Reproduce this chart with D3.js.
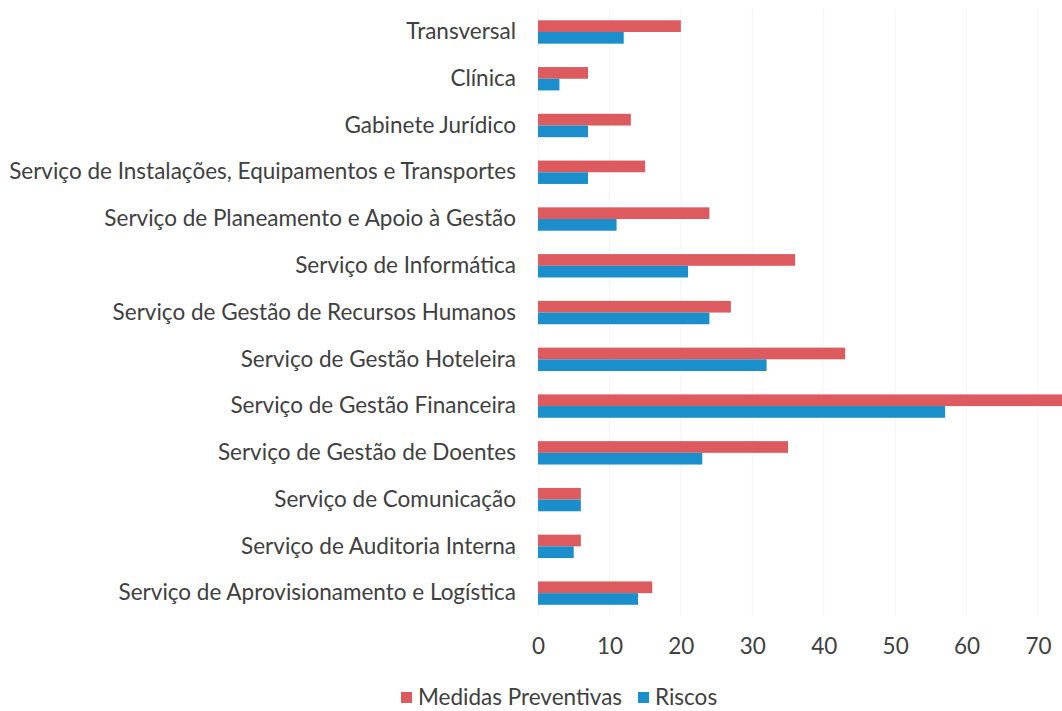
<!DOCTYPE html>
<html>
<head>
<meta charset="utf-8">
<script src="https://cdn.jsdelivr.net/npm/d3@7"></script>
<style>
  body { margin: 0; background: #fff; }
  text { font-family: Lato, "Open Sans", sans-serif; fill: #404040; }
</style>
</head>
<body>
<script>
var categories = [
    "Transversal",
    "Clínica",
    "Gabinete Jurídico",
    "Serviço de Instalações, Equipamentos e Transportes",
    "Serviço de Planeamento e Apoio à Gestão",
    "Serviço de Informática",
    "Serviço de Gestão de Recursos Humanos",
    "Serviço de Gestão Hoteleira",
    "Serviço de Gestão Financeira",
    "Serviço de Gestão de Doentes",
    "Serviço de Comunicação",
    "Serviço de Auditoria Interna",
    "Serviço de Aprovisionamento e Logística"
];
var medidas = [20, 7, 13, 15, 24, 36, 27, 43, 74, 35, 6, 6, 16];
var riscos = [12, 3, 7, 7, 11, 21, 24, 32, 57, 23, 6, 5, 14];
var seriesNames = ["Medidas Preventivas", "Riscos"];
var xTicks = [0, 10, 20, 30, 40, 50, 60, 70];

var width = 1062, height = 711;
var colors = ["#dd5a5e", "#1b8fcb"];
var fontSize = "22.5px";

var svg = d3.select("body").append("svg")
    .attr("width", width)
    .attr("height", height);

var x = d3.scaleLinear().domain([0, 70]).range([538, 1038]);
var y = d3.scaleBand().domain(categories).range([8.6, 616.5])
    .paddingInner(0.5).paddingOuter(0.25);
var sub = d3.scaleBand().domain(seriesNames).range([0, y.bandwidth()]);

// faint gridlines
svg.append("g")
    .selectAll("line")
    .data(xTicks)
    .enter()
    .append("line")
    .attr("x1", function(d) { return x(d); })
    .attr("x2", function(d) { return x(d); })
    .attr("y1", 8.6)
    .attr("y2", 616.5)
    .attr("stroke", "#f5f5f5")
    .attr("stroke-width", 1);

var rows = categories.map(function(c, i) {
    return { cat: c, vals: [medidas[i], riscos[i]] };
});

var groups = svg.append("g")
    .selectAll("g")
    .data(rows)
    .enter()
    .append("g")
    .attr("transform", function(d) { return "translate(0," + y(d.cat) + ")"; });

groups.selectAll("rect")
    .data(function(d) {
        return d.vals.map(function(v, j) { return { name: seriesNames[j], v: v, j: j }; });
    })
    .enter()
    .append("rect")
    .attr("x", x(0))
    .attr("y", function(d) { return sub(d.name); })
    .attr("width", function(d) { return x(d.v) - x(0); })
    .attr("height", sub.bandwidth())
    .attr("fill", function(d) { return colors[d.j]; });

// category labels
var yAxis = svg.append("g")
    .attr("transform", "translate(538,0)")
    .call(d3.axisLeft(y).tickSize(0).tickPadding(22));
yAxis.select(".domain").remove();
yAxis.selectAll("text")
    .style("font-size", fontSize)
    .attr("fill", "#404040");

// x axis
var xAxis = svg.append("g")
    .attr("transform", "translate(0,616.5)")
    .call(d3.axisBottom(x).tickValues(xTicks).tickSize(0).tickPadding(22));
xAxis.select(".domain").remove();
xAxis.selectAll("text")
    .style("font-size", fontSize)
    .attr("fill", "#595959");

// legend
var legend = svg.append("g").attr("transform", "translate(0,697)");
var legX = [401, 638];
seriesNames.forEach(function(name, i) {
    legend.append("rect")
        .attr("x", legX[i])
        .attr("y", -5)
        .attr("width", 11)
        .attr("height", 11)
        .attr("fill", colors[i]);
    legend.append("text")
        .attr("x", legX[i] + 17)
        .attr("y", 0)
        .attr("dy", "0.35em")
        .style("font-size", fontSize)
        .attr("fill", "#404040")
        .text(name);
});
</script>
</body>
</html>
